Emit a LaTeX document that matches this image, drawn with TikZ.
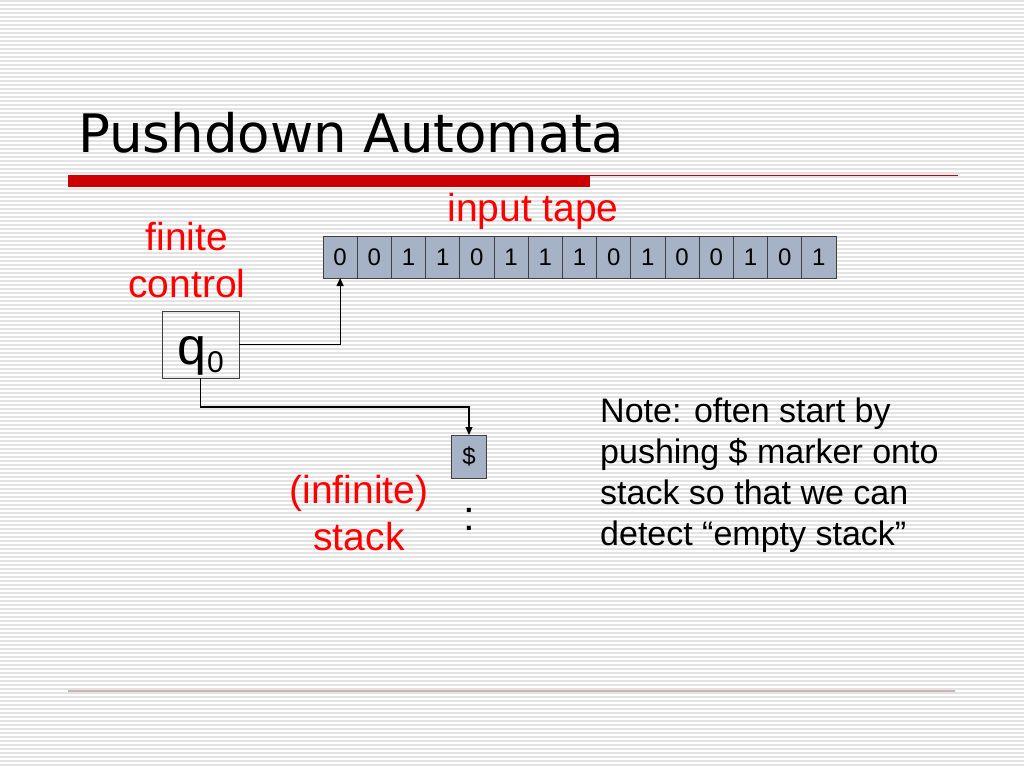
\documentclass[tikz,border=0pt]{standalone}
\usepackage{fontspec}
\setmainfont{Liberation Sans}
\newfontfamily\titlefont{DejaVu Sans}
\usetikzlibrary{
    arrows.meta,
    positioning
}
\definecolor{cellfill}{RGB}{166,179,198}
\definecolor{barred}{RGB}{204,0,0}
\definecolor{footline}{RGB}{205,180,180}

\begin{document}
\begin{tikzpicture}[
    x=1pt,
    y=-1pt,
    stripe/.style = {
        draw=black!11,
        line width=1.1pt
    },
    cell/.style = {
        draw=black!75,
        fill=cellfill,
        line width=0.9pt,
        inner sep=0pt,
        outer sep=0pt,
        minimum width=34.2pt,
        minimum height=42pt,
        font=\fontsize{24}{28}\selectfont
    },
    label/.style = {
        text=red,
        align=center,
        font=\fontsize{39}{47}\selectfont
    },
    link/.style = {
        line width=1.2pt,
        -{Triangle[length=8pt,width=7pt]}
    },
]
    \useasboundingbox (0,0) rectangle (1024,768);

    % striped background
    \foreach \y in {1,5,...,768}
        \draw [stripe] (0,\y) -- (1024,\y);

    % title and rules
    \node [anchor=base west,inner sep=0pt,font=\titlefont\fontsize{53}{60}\selectfont]
        (title) at (78,152) {Pushdown Automata};
    \fill [barred] (68,175) rectangle (590,187);
    \draw [barred,line width=1pt] (590,175.5) -- (958,175.5);
    \draw [footline,line width=1.2pt] (68,691) -- (955,691);

    % input tape
    \node [cell] (c1) at (340.1,257) {0};
    \foreach \bit [count=\i from 2] in {0,1,1,0,1,1,1,0,1,0,0,1,0,1} {
        \pgfmathtruncatemacro\prev{\i-1}
        \node [cell,right=0pt of c\prev] (c\i) {\bit};
    }
    \node [label] (tape_label) at (533,211) {input tape};

    % finite control
    \node [draw=black!75,line width=0.9pt,minimum width=77pt,minimum height=67pt,inner sep=0pt]
        (q0) at (200.5,344.5) {};
    \node [font=\fontsize{52}{52}\selectfont,inner sep=0pt,anchor=base east]
        (q0_q) at (207,364) {q};
    \node [font=\fontsize{30}{30}\selectfont,inner sep=0pt,anchor=base west]
        (q0_sub) at (q0_q.base east) [yshift=-8pt] {0};
    \node [label] (control_label) at (187,260) {finite\\control};

    % stack
    \node [cell,minimum height=43pt] (dollar) at (469,456.5) {\$};
    \node [font=\fontsize{42}{42}\selectfont,inner sep=0pt] (dots) at (469,519) {:};
    \node [label] (stack_label) at (359,513) {(infinite)\\stack};

    \coordinate (push_corner) at (q0.south |- 0,407);
    \draw [link] (q0.east) -| (c1.south);
    \draw [link] (q0.south) -- (push_corner) -| (dollar.north);

    % note
    \node [anchor=base west,align=left,inner sep=0pt,
           font=\fontsize{34}{41}\selectfont] (note) at (600,545)
        {Note: often start by\\pushing \$ marker onto\\stack so that we can\\detect “empty stack”};
\end{tikzpicture}
\end{document}
